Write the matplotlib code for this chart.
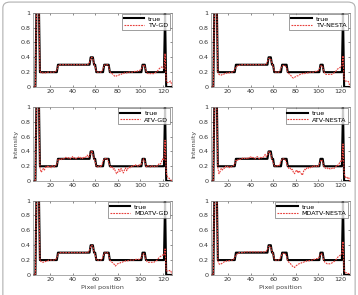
import numpy as np
import matplotlib
matplotlib.use('Agg')
import matplotlib.pyplot as plt
from matplotlib.patches import FancyBboxPatch

# Pixel positions 5..128
pixel = np.arange(5, 129)

# True profile
true = [0, 0, 0, 1.2, 1.2, 1.2, 0.2, 0.2, 0.2, 0.2, 0.2, 0.2, 0.2, 0.2, 0.2, 0.2,
        0.2, 0.2, 0.2, 0.2, 0.2, 0.2, 0.3, 0.3, 0.3, 0.3, 0.3, 0.3, 0.3, 0.3, 0.3, 0.3,
        0.3, 0.3, 0.3, 0.3, 0.3, 0.3, 0.3, 0.3, 0.3, 0.3, 0.3, 0.3, 0.3, 0.3, 0.3, 0.3,
        0.3, 0.3, 0.3, 0.4, 0.4, 0.4, 0.3, 0.3, 0.2, 0.2, 0.2, 0.2, 0.2, 0.2, 0.2, 0.3,
        0.3, 0.3, 0.3, 0.3, 0.2, 0.2, 0.2, 0.2, 0.2, 0.2, 0.2, 0.2, 0.2, 0.2, 0.2, 0.2,
        0.2, 0.2, 0.2, 0.2, 0.2, 0.2, 0.2, 0.2, 0.2, 0.2, 0.2, 0.2, 0.2, 0.2, 0.2, 0.2,
        0.2, 0.3, 0.3, 0.3, 0.2, 0.2, 0.2, 0.2, 0.2, 0.2, 0.2, 0.2, 0.2, 0.2, 0.2, 0.2,
        0.2, 0.2, 0.2, 0.2, 0.2, 1.0, 0, 0, 0, 0, 0, 0]

tv_gd = [0, 0, 0, 1.15, 1.2, 1.1, 0.22, 0.19, 0.19, 0.19, 0.19, 0.19, 0.2, 0.2, 0.2, 0.2,
         0.2, 0.2, 0.2, 0.2, 0.21, 0.23, 0.28, 0.3, 0.3, 0.3, 0.3, 0.3, 0.3, 0.3, 0.3, 0.3,
         0.3, 0.3, 0.3, 0.3, 0.3, 0.3, 0.3, 0.3, 0.3, 0.3, 0.3, 0.3, 0.3, 0.3, 0.3, 0.3,
         0.3, 0.31, 0.33, 0.38, 0.4, 0.38, 0.31, 0.27, 0.21, 0.2, 0.2, 0.2, 0.2, 0.21, 0.25, 0.29,
         0.3, 0.3, 0.3, 0.28, 0.21, 0.19, 0.18, 0.17, 0.15, 0.14, 0.15, 0.16, 0.16, 0.17, 0.17, 0.18,
         0.18, 0.19, 0.19, 0.19, 0.2, 0.2, 0.2, 0.2, 0.2, 0.2, 0.21, 0.21, 0.21, 0.22, 0.22, 0.23,
         0.24, 0.28, 0.3, 0.28, 0.22, 0.19, 0.18, 0.18, 0.18, 0.18, 0.18, 0.18, 0.19, 0.2, 0.21, 0.23,
         0.25, 0.26, 0.27, 0.26, 0.25, 0.45, 0.08, 0.06, 0.06, 0.07, 0.08, 0.02]

tv_nesta = [0, 0, 0, 1.15, 1.2, 1.1, 0.2, 0.17, 0.16, 0.16, 0.17, 0.17, 0.18, 0.18, 0.19, 0.19,
            0.19, 0.2, 0.2, 0.2, 0.21, 0.24, 0.27, 0.28, 0.29, 0.29, 0.3, 0.3, 0.3, 0.3, 0.3, 0.3,
            0.3, 0.3, 0.3, 0.3, 0.3, 0.3, 0.3, 0.3, 0.3, 0.3, 0.3, 0.3, 0.3, 0.3, 0.3, 0.3,
            0.3, 0.31, 0.34, 0.38, 0.39, 0.37, 0.32, 0.28, 0.22, 0.2, 0.2, 0.2, 0.2, 0.22, 0.26, 0.28,
            0.29, 0.29, 0.28, 0.26, 0.2, 0.18, 0.17, 0.15, 0.13, 0.12, 0.13, 0.14, 0.15, 0.15, 0.16, 0.17,
            0.17, 0.18, 0.18, 0.18, 0.19, 0.19, 0.19, 0.2, 0.2, 0.2, 0.2, 0.2, 0.21, 0.21, 0.22, 0.22,
            0.24, 0.28, 0.29, 0.27, 0.21, 0.18, 0.17, 0.17, 0.17, 0.17, 0.17, 0.17, 0.18, 0.19, 0.2, 0.22,
            0.24, 0.25, 0.26, 0.27, 0.28, 0.42, 0.1, 0.08, 0.08, 0.08, 0.07, 0.01]

atv_gd = [0, 0, 0, 1.15, 1.2, 1.1, 0.19, 0.12, 0.14, 0.17, 0.15, 0.19, 0.18, 0.21, 0.19, 0.2,
          0.18, 0.21, 0.2, 0.19, 0.21, 0.23, 0.29, 0.28, 0.3, 0.29, 0.31, 0.3, 0.3, 0.32, 0.31, 0.31,
          0.32, 0.3, 0.31, 0.33, 0.31, 0.32, 0.3, 0.31, 0.32, 0.33, 0.31, 0.32, 0.3, 0.32, 0.31, 0.33,
          0.35, 0.32, 0.34, 0.38, 0.41, 0.36, 0.31, 0.26, 0.2, 0.19, 0.2, 0.21, 0.19, 0.22, 0.27, 0.3,
          0.3, 0.31, 0.29, 0.25, 0.21, 0.18, 0.19, 0.16, 0.17, 0.13, 0.1, 0.12, 0.16, 0.13, 0.17, 0.14,
          0.11, 0.15, 0.18, 0.14, 0.17, 0.19, 0.18, 0.2, 0.19, 0.21, 0.2, 0.22, 0.21, 0.2, 0.22, 0.21,
          0.23, 0.28, 0.3, 0.27, 0.2, 0.19, 0.21, 0.2, 0.19, 0.21, 0.2, 0.19, 0.2, 0.21, 0.2, 0.22,
          0.24, 0.23, 0.27, 0.3, 0.28, 0.55, 0.12, 0.06, 0.05, 0.03, 0.02, 0.0]

atv_nesta = [0, 0, 0, 1.15, 1.2, 1.1, 0.18, 0.1, 0.13, 0.17, 0.15, 0.18, 0.17, 0.2, 0.19, 0.2,
             0.18, 0.2, 0.19, 0.2, 0.21, 0.23, 0.28, 0.27, 0.29, 0.3, 0.29, 0.3, 0.31, 0.3, 0.31, 0.3,
             0.31, 0.3, 0.32, 0.33, 0.31, 0.32, 0.31, 0.3, 0.32, 0.33, 0.31, 0.3, 0.32, 0.31, 0.32, 0.33,
             0.36, 0.33, 0.35, 0.39, 0.4, 0.36, 0.3, 0.25, 0.21, 0.2, 0.2, 0.21, 0.2, 0.23, 0.27, 0.3,
             0.3, 0.3, 0.28, 0.24, 0.2, 0.17, 0.18, 0.15, 0.16, 0.12, 0.1, 0.13, 0.15, 0.11, 0.14, 0.12,
             0.1, 0.08, 0.13, 0.16, 0.15, 0.18, 0.17, 0.19, 0.18, 0.2, 0.19, 0.21, 0.2, 0.19, 0.21, 0.2,
             0.23, 0.27, 0.29, 0.26, 0.2, 0.18, 0.17, 0.18, 0.16, 0.17, 0.16, 0.17, 0.18, 0.17, 0.19, 0.2,
             0.22, 0.21, 0.25, 0.27, 0.26, 0.5, 0.1, 0.05, 0.06, 0.04, 0.05, 0.0]

mdatv_gd = [0, 0, 0, 1.15, 1.2, 1.1, 0.2, 0.18, 0.17, 0.17, 0.18, 0.18, 0.19, 0.19, 0.2, 0.2,
            0.2, 0.2, 0.2, 0.2, 0.21, 0.23, 0.28, 0.29, 0.3, 0.3, 0.3, 0.3, 0.3, 0.3, 0.3, 0.3,
            0.3, 0.3, 0.3, 0.3, 0.3, 0.3, 0.3, 0.3, 0.3, 0.3, 0.3, 0.3, 0.3, 0.3, 0.3, 0.3,
            0.3, 0.31, 0.33, 0.38, 0.4, 0.38, 0.31, 0.27, 0.21, 0.2, 0.2, 0.2, 0.2, 0.21, 0.25, 0.29,
            0.3, 0.3, 0.3, 0.27, 0.2, 0.18, 0.17, 0.16, 0.14, 0.12, 0.14, 0.15, 0.16, 0.16, 0.17, 0.17,
            0.18, 0.18, 0.19, 0.19, 0.19, 0.2, 0.2, 0.2, 0.2, 0.2, 0.2, 0.21, 0.21, 0.21, 0.21, 0.22,
            0.23, 0.28, 0.29, 0.27, 0.21, 0.18, 0.17, 0.17, 0.17, 0.17, 0.17, 0.17, 0.18, 0.19, 0.2, 0.22,
            0.24, 0.25, 0.26, 0.27, 0.26, 0.35, 0.06, 0.05, 0.05, 0.06, 0.06, 0.01]

mdatv_nesta = [0, 0, 0, 1.15, 1.2, 1.1, 0.19, 0.15, 0.14, 0.15, 0.16, 0.17, 0.18, 0.18, 0.19, 0.19,
               0.19, 0.2, 0.2, 0.2, 0.21, 0.24, 0.27, 0.28, 0.29, 0.3, 0.3, 0.3, 0.3, 0.3, 0.31, 0.31,
               0.31, 0.31, 0.31, 0.31, 0.31, 0.31, 0.31, 0.31, 0.31, 0.31, 0.31, 0.31, 0.31, 0.31, 0.31, 0.31,
               0.31, 0.32, 0.34, 0.38, 0.39, 0.37, 0.32, 0.28, 0.22, 0.2, 0.2, 0.2, 0.2, 0.22, 0.25, 0.28,
               0.29, 0.29, 0.28, 0.25, 0.19, 0.17, 0.16, 0.14, 0.12, 0.11, 0.1, 0.12, 0.13, 0.14, 0.15, 0.16,
               0.16, 0.17, 0.17, 0.18, 0.18, 0.19, 0.19, 0.19, 0.2, 0.2, 0.2, 0.21, 0.21, 0.22, 0.22, 0.22,
               0.24, 0.28, 0.29, 0.26, 0.2, 0.17, 0.16, 0.15, 0.15, 0.15, 0.15, 0.16, 0.17, 0.18, 0.19, 0.21,
               0.23, 0.25, 0.26, 0.27, 0.28, 0.45, 0.06, 0.03, 0.03, 0.02, 0.02, 0.0]

methods = ['TV-GD', 'TV-NESTA', 'ATV-GD', 'ATV-NESTA', 'MDATV-GD', 'MDATV-NESTA']
recons = [tv_gd, tv_nesta, atv_gd, atv_nesta, mdatv_gd, mdatv_nesta]

fig = plt.figure(figsize=(3.58, 2.95), dpi=100)

# rounded frame around the figure
frame = FancyBboxPatch((0.008, -0.05), 0.984, 1.043, boxstyle='round,pad=0,rounding_size=0.02',
                       transform=fig.transFigure, fill=False, edgecolor='#b0b0b0', lw=0.8)
fig.patches.append(frame)

lefts = [0.092, 0.589]
bottoms = [0.705, 0.386, 0.068]
w, h = 0.388, 0.252

for i, (name, rec) in enumerate(zip(methods, recons)):
    row, col = i // 2, i % 2
    ax = fig.add_axes([lefts[col], bottoms[row], w, h])
    ax.plot(pixel, true, color='black', lw=1.5, label='true')
    ax.plot(pixel, rec, color='#e8403c', lw=0.8, ls=(0, (1.6, 0.9)), label=name)
    ax.set_xlim(4.8, 128)
    ax.set_ylim(0, 1)
    ax.set_xticks([20, 40, 60, 80, 100, 120])
    ax.set_yticks([0, 0.2, 0.4, 0.6, 0.8, 1])
    ax.set_yticklabels(['0', '0.2', '0.4', '0.6', '0.8', '1'])
    ax.tick_params(direction='in', length=1.5, width=0.4, labelsize=4.6, pad=1.5,
                   colors='#333333', top=True, right=True)
    for s in ax.spines.values():
        s.set_linewidth(0.5)
        s.set_color('#888888')
    leg = ax.legend(loc='upper right', fontsize=4.6, frameon=True, fancybox=False,
                    borderpad=0.3, handlelength=3.2, labelspacing=0.2, handletextpad=0.6,
                    borderaxespad=0.25)
    leg.get_frame().set_edgecolor('#555555')
    leg.get_frame().set_linewidth(0.5)
    if row == 1:
        ax.set_ylabel('Intensity', fontsize=4.6, color='#444444', labelpad=2)
    if row == 2:
        ax.set_xlabel('Pixel position', fontsize=4.6, color='#444444', labelpad=2)

fig.savefig('out.png', dpi=100)
